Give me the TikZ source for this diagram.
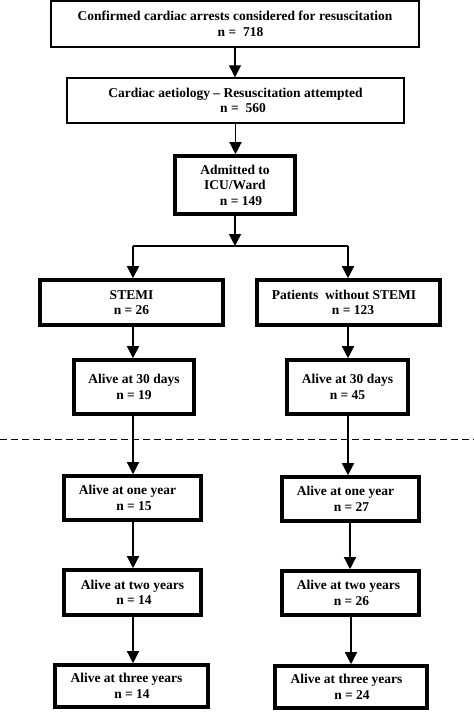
\documentclass[tikz,border=0pt]{standalone}
\usepackage{fontspec}
\setmainfont{Liberation Serif}
\usetikzlibrary{arrows.meta}
\newcommand{\shr}[2]{\hspace*{#1}#2}
\newcommand{\shl}[2]{#2\hspace*{#1}}
\begin{document}
\begin{tikzpicture}[x=1pt,y=-1pt,
  thinbox/.style={draw,line width=1.4pt,align=center,inner sep=0pt,
    font=\fontsize{13.5}{15.5}\selectfont\bfseries},
  thickbox/.style={thinbox,line width=3.6pt},
  conn/.style={line width=1.3pt,-{Triangle[width=12pt,length=12pt]}},
  plain/.style={line width=1.3pt}]
\useasboundingbox (0,0) rectangle (474,713);
\node[thinbox,minimum width=368pt,minimum height=46pt] (b1) at (235,24)
  {Confirmed cardiac arrests considered for resuscitation\\\shr{11pt}{n =\ \ 718}};
\node[thinbox,minimum width=337pt,minimum height=45pt] (b2) at (235.5,100.5)
  {Cardiac aetiology -- Resuscitation attempted\\\shr{15pt}{n =\ \ 560}};
\node[thickbox,minimum width=120pt,minimum height=58pt] (b3) at (235,185)
  {Admitted to\\ICU/Ward\\\shr{12pt}{n = 149}};
\node[thickbox,minimum width=183pt,minimum height=45pt] (stemi) at (131.5,302.5)
  {STEMI\\n = 26};
\node[thickbox,minimum width=183pt,minimum height=45pt] (nost) at (348.5,302.5)
  {\shl{9pt}{Patients\ \ without STEMI}\\\shr{9pt}{n = 123}};
\node[thickbox,minimum width=120pt,minimum height=54pt] (a30l) at (134,387)
  {Alive at 30 days\\n = 19};
\node[thickbox,minimum width=121pt,minimum height=54pt] (a30r) at (347.5,387)
  {Alive at 30 days\\n = 45};
\node[thickbox,minimum width=137pt,minimum height=44pt] (onel) at (132.5,498)
  {\shl{10pt}{Alive at one year}\\\shr{3pt}{n = 15}};
\node[thickbox,minimum width=137pt,minimum height=44pt] (oner) at (350.5,499)
  {\shl{10pt}{Alive at one year}\\\shr{2pt}{n = 27}};
\node[thickbox,minimum width=137pt,minimum height=45pt] (twol) at (132.5,592.5)
  {Alive at two years\\\shr{3pt}{n = 14}};
\node[thickbox,minimum width=137pt,minimum height=44pt] (twor) at (350.5,593)
  {\shl{4pt}{Alive at two years}\\\shr{2pt}{n = 26}};
\node[thickbox,minimum width=153pt,minimum height=42pt] (thrl) at (131.5,686)
  {\shl{10pt}{Alive at three years}\\\shr{1pt}{n = 14}};
\node[thickbox,minimum width=152pt,minimum height=42pt] (thrr) at (351,687)
  {\shl{9pt}{Alive at three years}\\\shr{2pt}{n = 24}};
\coordinate (split) at (235,246);
\coordinate (jl) at (133,246);
\coordinate (jr) at (348,246);
\draw[conn] (b1.south) -- (b1.south |- b2.north);
\draw[conn] (b2.south) -- (b2.south |- b3.north);
\draw[conn] (b3.south) -- (split);
\draw[plain] (jl) -- (jr);
\draw[conn] (jl) -- (jl |- stemi.north);
\draw[conn] (jr) -- (jr |- nost.north);
\draw[conn] (jl |- stemi.south) -- (jl |- a30l.north);
\draw[conn] (jr |- nost.south) -- (jr |- a30r.north);
\draw[conn] (jl |- a30l.south) -- (jl |- onel.north);
\draw[conn] (jr |- a30r.south) -- (jr |- oner.north);
\draw[conn] (jl |- onel.south) -- (jl |- twol.north);
\draw[conn] (350,0 |- oner.south) -- (350,0 |- twor.north);
\draw[conn] (jl |- twol.south) -- (jl |- thrl.north);
\draw[conn] (351,0 |- twor.south) -- (351,0 |- thrr.north);
\coordinate (dl) at (0,439);
\coordinate (dr) at (474,439);
\draw[line width=1pt,dash pattern=on 7pt off 4pt] (dl) -- (dr);
\end{tikzpicture}
\end{document}
